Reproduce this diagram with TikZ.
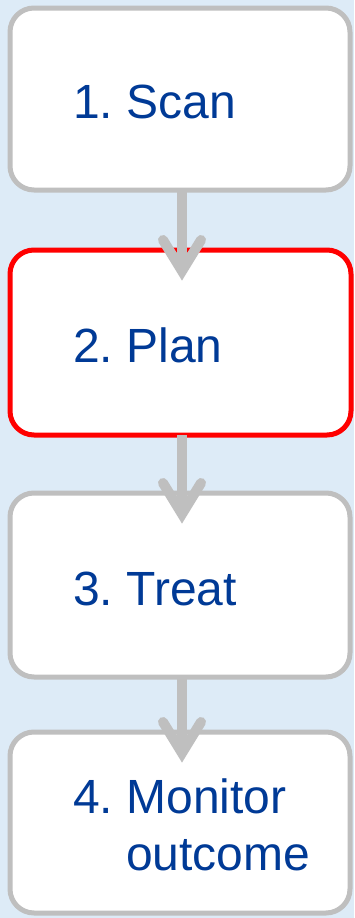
\documentclass[tikz,border=0pt]{standalone}
\usepackage{fontspec}
\setmainfont{Liberation Sans}
\usetikzlibrary{calc}
\frenchspacing
\definecolor{bgblue}{RGB}{221,235,247}
\definecolor{boxgray}{RGB}{191,191,191}
\definecolor{txtblue}{RGB}{0,58,150}
\definecolor{hired}{RGB}{255,0,0}
\tikzset{
  stepbox/.style={draw=boxgray, line width=5pt, fill=white, rounded corners=24pt, inner sep=0pt, outer sep=0pt},
  hibox/.style={stepbox, draw=hired},
  steptext/.style={anchor=base west, inner sep=0pt, text=txtblue, font=\fontsize{48}{57}\selectfont\frenchspacing},
  shaft/.style={draw=boxgray, line width=10pt},
  head/.style={draw=boxgray, line width=10pt, line cap=round, miter limit=10},
}
\begin{document}
\begin{tikzpicture}[x=1pt,y=-1pt]
\fill[bgblue] (0,0) rectangle (354,918);
\useasboundingbox (0,0) rectangle (354,918);
% boxes
\node[stepbox, minimum width=340pt, minimum height=182pt] (b1) at (180,99) {};
\node[hibox, minimum width=341pt, minimum height=185pt] (b2) at (180.5,342.5) {};
\node[stepbox, minimum width=340pt, minimum height=184pt] (b3) at (180,585) {};
\node[stepbox, minimum width=340pt, minimum height=181pt] (b4) at (180,822.5) {};
% texts
\node[steptext] (t1) at (73,118) {1. Scan};
\node[steptext] (t2) at (73,362) {2. Plan};
\node[steptext] (t3) at (73,605) {3. Treat};
\node[steptext] (t4) at (73,813) {4. Monitor};
\node[steptext] (t5) at (126,870) {outcome};
% arrows
\coordinate (cx) at (182,0);
\foreach \a/\b in {b1/b2, b2/b3, b3/b4}{
  \coordinate (v) at ($(cx |- \b.north)+(0,21)$);
  \draw[shaft] (v |- \a.south) -- (v);
  \draw[head] ($(v)+(-19,-31)$) -- (v) -- ($(v)+(19,-31)$);
}
\end{tikzpicture}
\end{document}
